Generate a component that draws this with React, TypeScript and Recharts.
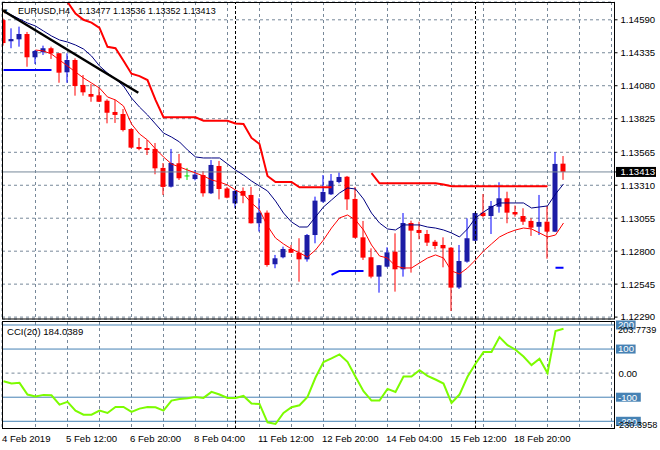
import React from "react";
import { ComposedChart, Bar, Line, XAxis, YAxis, CartesianGrid, ReferenceLine } from "recharts";

// ---------- data (EURUSD H4, bar 0 = 4 Feb 2019 04:00) ----------
const opens = [
  1.14588, 1.14424, 1.14439, 1.1448, 1.143, 1.14339, 1.1437, 1.14331, 1.14184, 1.14279,
  1.14086, 1.14016, 1.14006, 1.13964, 1.13877, 1.13861, 1.13745, 1.13606, 1.13598, 1.13591,
  1.13444, 1.13299, 1.1348, 1.13382, 1.13358, 1.13389, 1.13248, 1.13459, 1.13285, 1.1317,
  1.13266, 1.13235, 1.13016, 1.13098, 1.12699, 1.12753, 1.12817, 1.12788, 1.12737, 1.12925,
  1.13183, 1.1324, 1.13335, 1.13376, 1.13204, 1.12907, 1.12753, 1.12603, 1.1268, 1.12796,
  1.1266, 1.13018, 1.12964, 1.12933, 1.12873, 1.12848, 1.12827, 1.12519, 1.12719, 1.12881,
  1.13098, 1.13072, 1.13144, 1.13209, 1.13103, 1.13072, 1.13034, 1.12989, 1.13028, 1.12951,
  1.13477,
];
const highs = [
  1.146, 1.14524, 1.14537, 1.14496, 1.14356, 1.1439, 1.14382, 1.14333, 1.14331, 1.14292,
  1.14163, 1.14093, 1.1406, 1.13975, 1.1397, 1.139, 1.13749, 1.13676, 1.1366, 1.13637,
  1.13482, 1.13591, 1.13552, 1.13444, 1.13428, 1.1342, 1.13505, 1.13498, 1.13297, 1.13273,
  1.13293, 1.13297, 1.13209, 1.13115, 1.12771, 1.12835, 1.12848, 1.129, 1.12933, 1.13222,
  1.13389, 1.13397, 1.13409, 1.13382, 1.13297, 1.13034, 1.12822, 1.12693, 1.1283, 1.12938,
  1.13095, 1.13036, 1.13028, 1.12964, 1.12887, 1.12907, 1.12832, 1.12848, 1.13054, 1.13099,
  1.13242, 1.13188, 1.13333, 1.1326, 1.13153, 1.13132, 1.13054, 1.13235, 1.1315, 1.13567,
  1.13536,
];
const lows = [
  1.1439, 1.1437, 1.14382, 1.14227, 1.14248, 1.14318, 1.14287, 1.14103, 1.14103, 1.14003,
  1.14003, 1.13956, 1.13954, 1.13789, 1.13792, 1.13726, 1.13596, 1.13581, 1.13544, 1.13395,
  1.13235, 1.13293, 1.13351, 1.13351, 1.13348, 1.13222, 1.13242, 1.13201, 1.13209, 1.13132,
  1.13171, 1.13014, 1.12952, 1.1268, 1.12668, 1.12745, 1.12786, 1.12564, 1.12719, 1.12861,
  1.13175, 1.13235, 1.13325, 1.13119, 1.129, 1.12732, 1.1259, 1.12479, 1.12675, 1.12487,
  1.12603, 1.12634, 1.12892, 1.1284, 1.12815, 1.12675, 1.12337, 1.12508, 1.12711, 1.12879,
  1.13062, 1.12933, 1.13098, 1.13016, 1.13067, 1.13003, 1.12918, 1.12925, 1.12742, 1.12948,
  1.13352,
];
const closes = [
  1.1441, 1.14441, 1.1448, 1.143, 1.14349, 1.1437, 1.14331, 1.14181, 1.14279, 1.14078,
  1.14029, 1.13995, 1.13956, 1.13871, 1.13854, 1.13737, 1.13601, 1.13591, 1.13583, 1.13441,
  1.13297, 1.13482, 1.13364, 1.13382, 1.13393, 1.13248, 1.13467, 1.13281, 1.13214, 1.13266,
  1.13229, 1.13016, 1.13098, 1.12693, 1.12745, 1.12817, 1.12788, 1.12737, 1.12925, 1.13191,
  1.13258, 1.13345, 1.13374, 1.13201, 1.12904, 1.1275, 1.12603, 1.12691, 1.12791, 1.1266,
  1.13018, 1.12959, 1.12941, 1.12866, 1.1284, 1.12822, 1.12518, 1.12724, 1.129, 1.13095,
  1.13072, 1.1315, 1.13209, 1.13098, 1.13084, 1.13028, 1.12982, 1.13026, 1.12951, 1.13475,
  1.13413,
];
// thick red trailing stop
const stopLine = [
  null, null, null, null, null, null, null, null, 1.14728, 1.14639,
  1.1459, 1.14568, 1.14527, 1.14381, 1.1437, 1.14273, 1.14173, 1.14154, 1.14124, 1.1397,
  1.13836, 1.13836, 1.13836, 1.13836, 1.13836, 1.13809, 1.13809, 1.13809, 1.13809, 1.13788,
  1.13784, 1.13676, 1.13629, 1.13382, 1.13335, 1.13335, 1.13335, 1.13294, 1.13294, 1.13294,
  1.13294, 1.13294, null, null, null, null, 1.13403, 1.13325, 1.13325, 1.13325,
  1.13325, 1.13325, 1.13325, 1.13325, 1.13325, 1.13316, 1.13302, 1.13302, 1.13302, 1.13302,
  1.13302, 1.13302, 1.13302, 1.13302, 1.13302, 1.13302, 1.13302, 1.13302, 1.13302, null,
  null,
];
// navy moving average
const maSlow = [
  1.14658, 1.14627, 1.14596, 1.14565, 1.14542, 1.14503, 1.14465, 1.14434, 1.14418, 1.14395,
  1.14364, 1.1431, 1.14233, 1.14178, 1.14132, 1.14078, 1.13985, 1.13915, 1.13854, 1.13784,
  1.13714, 1.13683, 1.13645, 1.13583, 1.13529, 1.13521, 1.13521, 1.13521, 1.13475, 1.13428,
  1.13389, 1.13343, 1.13304, 1.13266, 1.13188, 1.13095, 1.13026, 1.12987, 1.12987, 1.13065,
  1.13142, 1.13196, 1.1325, 1.13289, 1.13281, 1.13204, 1.13095, 1.13018, 1.12972, 1.12964,
  1.13003, 1.13003, 1.13003, 1.12987, 1.12979, 1.12964, 1.12941, 1.1291, 1.12972, 1.13057,
  1.13103, 1.13142, 1.13173, 1.13173, 1.13173, 1.13173, 1.13134, 1.13142, 1.1315, 1.13242,
  1.1332,
];
// thin red moving average
const maFast = [
  null, null, null, null, 1.14356, 1.14349, 1.14325, 1.14279, 1.14233, 1.14186,
  1.1414, 1.14101, 1.14062, 1.13993, 1.1397, 1.13923, 1.13784, 1.13707, 1.1366, 1.13591,
  1.13529, 1.13475, 1.13451, 1.13428, 1.13405, 1.13382, 1.13351, 1.13335, 1.13312, 1.13273,
  1.13242, 1.13173, 1.13119, 1.12995, 1.12902, 1.12856, 1.12817, 1.12786, 1.12755, 1.12809,
  1.12887, 1.12979, 1.13057, 1.1308, 1.13041, 1.12964, 1.12848, 1.12763, 1.12747, 1.12685,
  1.1267, 1.1267, 1.12709, 1.12747, 1.12771, 1.12747, 1.12647, 1.12624, 1.1267, 1.12732,
  1.12801, 1.12856, 1.1291, 1.12941, 1.12964, 1.12979, 1.12972, 1.12941, 1.1291, 1.12925,
  1.13018,
];
// blue support segments
const supportLine = [
  1.14202, 1.14202, 1.14202, 1.14202, 1.14202, 1.14202, 1.14202, null, null, null,
  null, null, null, null, null, null, null, null, null, null,
  null, null, null, null, null, null, null, null, null, null,
  null, null, null, null, null, null, null, null, null, null,
  null, 1.12616, 1.12647, 1.12647, 1.12647, 1.12647, null, null, null, null,
  null, null, null, null, null, null, null, null, null, null,
  null, null, null, null, null, null, null, null, null, 1.12672,
  1.12672,
];
const cciValues = [
  -33.5, -43.2, -40.4, -89.0, -97.4, -90.4, -91.8, -130.7, -119.6, -155.7,
  -172.4, -172.4, -155.7, -165.4, -140.4, -140.4, -161.3, -147.4, -140.4, -141.8,
  -155.7, -114.0, -107.1, -104.3, -98.8, -102.9, -77.9, -89.0, -102.9, -102.9,
  -94.6, -126.5, -127.9, -204.3, -211.3, -165.4, -141.8, -133.5, -98.8, -18.2,
  45.7, 61.0, 77.6, 47.1, -15.4, -75.1, -114.0, -114.0, -65.4, -77.9,
  -14.0, -14.0, 12.4, -11.3, -26.5, -43.2, -123.8, -89.0, -15.4, 38.8,
  87.4, 87.4, 149.9, 116.5, 97.1, 69.3, 33.2, 59.6, 0.5, 174.9,
  184.0389,
];
const trendLine = [
  { bar: -0.03, price: 1.1466 },
  { bar: 16.85, price: 1.14026 },
];
const priceTicks = [1.1459, 1.14335, 1.1408, 1.13825, 1.13565, 1.1331, 1.13055, 1.128, 1.12545, 1.1229];
const bidPrice = 1.13413;
const gridBars = [4, 8, 12, 16, 20, 24, 28, 32, 36, 40, 44, 48, 52, 56, 60, 64, 68, 72, 76];
const dateTickBars = [0, 8, 16, 24, 32, 40, 48, 56, 64];
const dateLabels = [
  "4 Feb 2019", "5 Feb 12:00", "6 Feb 20:00", "8 Feb 04:00", "11 Feb 12:00",
  "12 Feb 20:00", "14 Feb 04:00", "15 Feb 12:00", "18 Feb 20:00",
];
const weekStartBars = [29, 59];
const cciLevels = [200, 100, -100, -200];
const cciMax = 203.7739;
const cciMin = -230.3958;
const cciTicks = [-200, cciMin, -100, 0, 100, 200, cciMax];

// ---------- styling ----------
const FONT = "'Liberation Sans', Arial, sans-serif";
const FS = 9;
const AXFS = 9.6;
const GRID = "#778899";
const X_DOMAIN: [number, number] = [-0.1875, 76.375];
const PRICE_DOMAIN: [number, number] = [1.122753, 1.147277];
const CCI_DOMAIN: [number, number] = [-230.4, 212.4];
const CCI_CHART_H = 130;
const DATE_BASELINE = 121.5; // inside the CCI chart svg

const data = opens.map((o, i) => ({
  i,
  o,
  h: highs[i],
  l: lows[i],
  c: closes[i],
  range: [lows[i], highs[i]],
  stop: stopLine[i],
  slow: maSlow[i],
  fast: maFast[i],
  sup: supportLine[i],
  cci: cciValues[i],
}));

const renderCandle = (props: any) => {
  const { x, y, width, height, payload } = props;
  if (!payload || typeof y !== "number" || typeof x !== "number") return <g />;
  const { o, h, l, c } = payload;
  const top = Math.min(y, y + height);
  const span = Math.abs(height);
  const pix = (p: number) => top + ((h - p) / (h - l)) * span;
  const cx = x + width / 2;
  const doji = o === c;
  const up = c > o;
  const wick = doji ? "#00e000" : up ? "#0000ff" : "#ff0000";
  const body = doji ? "#00e000" : up ? "#1c1ca5" : "#ff0000";
  const bTop = pix(Math.max(o, c));
  const bBot = pix(Math.min(o, c));
  return (
    <g>
      <line x1={cx} x2={cx} y1={top} y2={top + span} stroke={wick} strokeWidth={1} />
      {doji ? (
        <line x1={cx - 2.5} x2={cx + 2.5} y1={bTop} y2={bTop} stroke={body} strokeWidth={1} />
      ) : (
        <rect x={cx - 2.5} y={bTop} width={5} height={Math.max(1, bBot - bTop)} fill={body} />
      )}
    </g>
  );
};

const PriceTick = (props: any) => {
  const { x, y, payload } = props;
  const v = payload.value;
  const label = Number(v).toFixed(5);
  if (v === bidPrice) {
    return (
      <g>
        <rect x={x - 4.5} y={y - 5} width={40} height={10} fill="#000" />
        <text x={x} y={y + 3.4} fill="#fff" fontSize={AXFS} fontFamily={FONT}>{label}</text>
      </g>
    );
  }
  return (
    <text x={x} y={y + 3.4} fill="#000" fontSize={AXFS} fontFamily={FONT}>{label}</text>
  );
};

const CciTick = (props: any) => {
  const { x, y, payload } = props;
  const v = payload.value;
  if (v === cciMax) {
    return <text x={x + 3.5} y={y + 8.5} fill="#000" fontSize={9.2} fontFamily={FONT}>{v.toFixed(4)}</text>;
  }
  if (v === cciMin) {
    return <text x={x + 1.5} y={y - 0.8} fill="#000" fontSize={9.2} fontFamily={FONT}>{v.toFixed(4)}</text>;
  }
  if (v === 0) {
    return <text x={x + 4} y={y + 3.4} fill="#000" fontSize={AXFS} fontFamily={FONT}>0.00</text>;
  }
  const label = String(v);
  const w = label.length * 5.2 + 4;
  return (
    <g>
      <rect x={x + 1.5} y={y - 4.5} width={w} height={9} fill="#4682b4" />
      <text x={x + 3.5} y={y + 3.4} fill="#fff" fontSize={AXFS} fontFamily={FONT}>{label}</text>
    </g>
  );
};

const DateTick = (props: any) => {
  const { x, payload } = props;
  const idx = dateTickBars.indexOf(payload.value);
  return (
    <text x={x - 1.5} y={DATE_BASELINE} fill="#000" fontSize={AXFS} fontFamily={FONT}>
      {idx >= 0 ? dateLabels[idx] : ""}
    </text>
  );
};

export default function App() {
  const last = opens.length - 1;
  const title = [opens[last], highs[last], lows[last], closes[last]].map((v) => v.toFixed(5)).join(" ");
  return (
    <div style={{ position: "absolute", left: 0, top: 0, width: 660, height: 450, background: "#fff", overflow: "hidden" }}>
      <div style={{ position: "absolute", left: 0, top: 0 }}>
        <ComposedChart width={660} height={320} data={data} margin={{ top: 2, right: 0, bottom: 1, left: 2 }}>
          <XAxis xAxisId="x" dataKey="i" type="number" domain={X_DOMAIN} allowDataOverflow hide />
          <XAxis xAxisId="grid" dataKey="i" type="number" domain={X_DOMAIN} allowDataOverflow ticks={gridBars} interval={0} hide />
          <YAxis yAxisId="g" type="number" domain={PRICE_DOMAIN} allowDataOverflow ticks={priceTicks} interval={0} hide />
          <YAxis
            yAxisId="p"
            orientation="right"
            type="number"
            domain={PRICE_DOMAIN}
            allowDataOverflow
            ticks={[...priceTicks, bidPrice]}
            interval={0}
            width={45.5}
            axisLine={false}
            tickSize={3}
            tickMargin={3}
            tickLine={{ stroke: "#000" }}
            tick={<PriceTick />}
          />
          <CartesianGrid xAxisId="grid" yAxisId="g" stroke={GRID} strokeDasharray="3 3" />
          {weekStartBars.map((b) => (
            <ReferenceLine key={b} xAxisId="x" yAxisId="p" x={b} stroke="#000" strokeDasharray="3 2" />
          ))}
          <ReferenceLine xAxisId="x" yAxisId="p" y={bidPrice} stroke={GRID} />
          <Bar xAxisId="x" yAxisId="p" dataKey="range" barSize={5} shape={renderCandle} isAnimationActive={false} />
          <Line xAxisId="x" yAxisId="p" dataKey="fast" stroke="#ff0000" strokeWidth={1} dot={false} activeDot={false} isAnimationActive={false} />
          <Line xAxisId="x" yAxisId="p" dataKey="slow" stroke="#000080" strokeWidth={1} dot={false} activeDot={false} isAnimationActive={false} />
          <Line xAxisId="x" yAxisId="p" dataKey="stop" stroke="#ff0000" strokeWidth={2} dot={false} activeDot={false} isAnimationActive={false} />
          <Line xAxisId="x" yAxisId="p" dataKey="sup" stroke="#0000ff" strokeWidth={2} dot={false} activeDot={false} isAnimationActive={false} />
          <ReferenceLine
            xAxisId="x"
            yAxisId="p"
            segment={[
              { x: trendLine[0].bar, y: trendLine[0].price },
              { x: trendLine[1].bar, y: trendLine[1].price },
            ]}
            stroke="#000"
            strokeWidth={2.5}
          />
        </ComposedChart>
      </div>
      <div style={{ position: "absolute", left: 0, top: 320 }}>
        <ComposedChart width={660} height={CCI_CHART_H} data={data} margin={{ top: 2, right: 0, bottom: 0, left: 2 }}>
          <XAxis
            xAxisId="x"
            dataKey="i"
            type="number"
            domain={X_DOMAIN}
            allowDataOverflow
            ticks={dateTickBars}
            interval={0}
            height={21.4}
            axisLine={{ stroke: "#000" }}
            tickLine={{ stroke: "#000" }}
            tickSize={4}
            tick={<DateTick />}
          />
          <XAxis xAxisId="grid" dataKey="i" type="number" domain={X_DOMAIN} allowDataOverflow ticks={gridBars} interval={0} hide />
          <YAxis
            yAxisId="c"
            orientation="right"
            type="number"
            domain={CCI_DOMAIN}
            allowDataOverflow
            ticks={cciTicks}
            interval={0}
            width={45.5}
            axisLine={false}
            tickLine={false}
            tickSize={0}
            tickMargin={0}
            tick={<CciTick />}
          />
          <CartesianGrid xAxisId="grid" yAxisId="c" horizontal={false} stroke={GRID} strokeDasharray="3 3" />
          <ReferenceLine xAxisId="x" yAxisId="c" y={0} stroke={GRID} strokeDasharray="3 3" />
          {cciLevels.map((lv) => (
            <ReferenceLine key={lv} xAxisId="x" yAxisId="c" y={lv} stroke="#4682b4" />
          ))}
          {weekStartBars.map((b) => (
            <ReferenceLine key={b} xAxisId="x" yAxisId="c" x={b} stroke="#000" strokeDasharray="3 2" />
          ))}
          <Line xAxisId="x" yAxisId="c" dataKey="cci" stroke="#7cfc00" strokeWidth={2} dot={false} activeDot={false} isAnimationActive={false} />
        </ComposedChart>
      </div>
      <svg width={660} height={450} style={{ position: "absolute", left: 0, top: 0, pointerEvents: "none" }}>
        <rect x={2.5} y={2.5} width={612} height={316.5} fill="none" stroke="#000" strokeWidth={1} />
        <rect x={2.5} y={321.5} width={612} height={107} fill="none" stroke="#000" strokeWidth={1} />
        <text x={1} y={14} fontSize={8} fontFamily={FONT} fill="#000">▼</text>
        <text x={18} y={14} fontSize={FS} fontFamily={FONT} fill="#000">EURUSD,H4</text>
        <text x={78} y={14} fontSize={FS} fontFamily={FONT} fill="#000">{title}</text>
        <text x={7} y={335} fontSize={AXFS} fontFamily={FONT} fill="#000">
          {`CCI(20) ${cciValues[last].toFixed(4)}`}
        </text>
      </svg>
    </div>
  );
}
